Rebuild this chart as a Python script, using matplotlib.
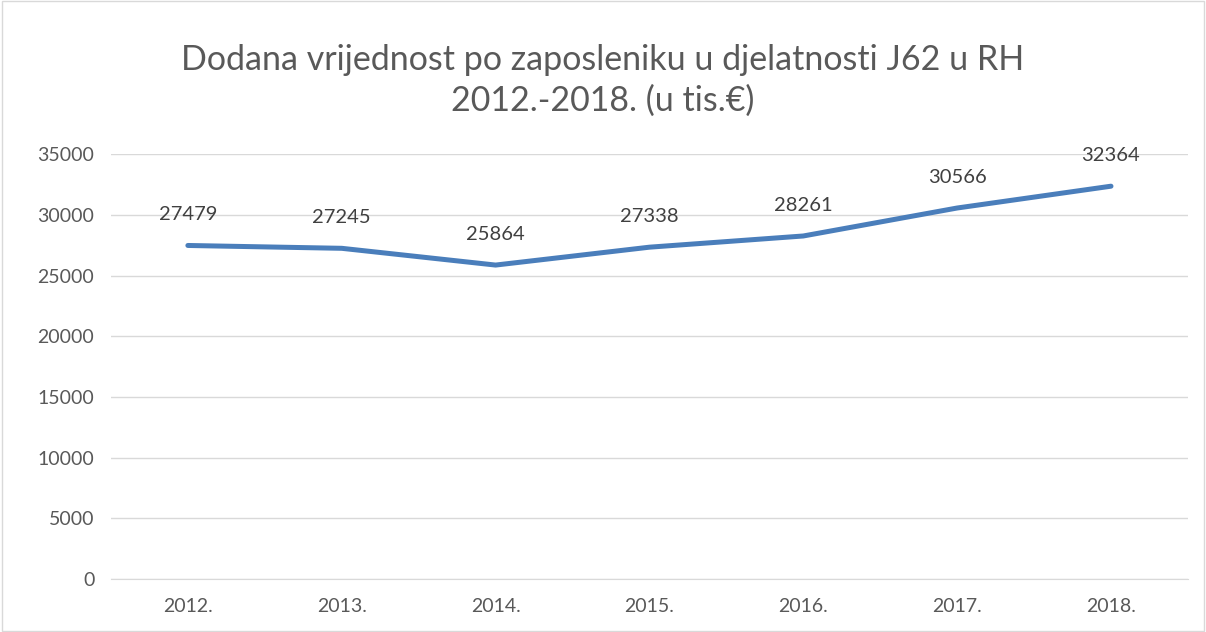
import numpy as np
import matplotlib.pyplot as plt
from matplotlib.patches import Rectangle

godine = ['2012.', '2013.', '2014.', '2015.', '2016.', '2017.', '2018.']
vrijednosti = [27479, 27245, 25864, 27338, 28261, 30566, 32364]
naslov = 'Dodana vrijednost po zaposleniku u djelatnosti J62 u RH\n2012.-2018. (u tis.€)'

plt.rcParams['font.family'] = ['Lato', 'DejaVu Sans']

fig = plt.figure(figsize=(12.06, 6.32), dpi=100)
ax = fig.add_axes([0.092, 0.084, 0.893, 0.672])

x = np.arange(len(godine))
ax.plot(x, vrijednosti, color='#4A7EBB', lw=3.6, solid_capstyle='round', zorder=3)

# oznake podataka iznad tocaka
for xi, v in zip(x, vrijednosti):
    ax.annotate(str(v), (xi, v), xytext=(0, 22), textcoords='offset points',
                ha='center', va='center', fontsize=14.5, color='#404040')

ax.set_xlim(-0.5, len(godine) - 0.5)
ax.set_ylim(0, 35000)
ax.set_yticks(np.arange(0, 35001, 5000))
ax.set_xticks(x)
ax.set_xticklabels(godine)
ax.tick_params(axis='both', length=0, labelsize=14, colors='#595959')
ax.tick_params(axis='x', pad=14)
ax.tick_params(axis='y', pad=12)
ax.grid(axis='y', color='#D9D9D9', lw=1)
ax.set_axisbelow(True)
for s in ['top', 'right', 'left']:
    ax.spines[s].set_visible(False)
ax.spines['bottom'].set_color('#D9D9D9')

fig.text(0.5, 0.873, naslov, ha='center', va='center', fontsize=24.5,
         color='#595959', linespacing=1.32)

# okvir oko grafikona
fig.patches.append(Rectangle((0.002, 0.002), 0.996, 0.996, transform=fig.transFigure,
                             fill=False, edgecolor='#D9D9D9', lw=1))

fig.savefig('out.png', dpi=100)
